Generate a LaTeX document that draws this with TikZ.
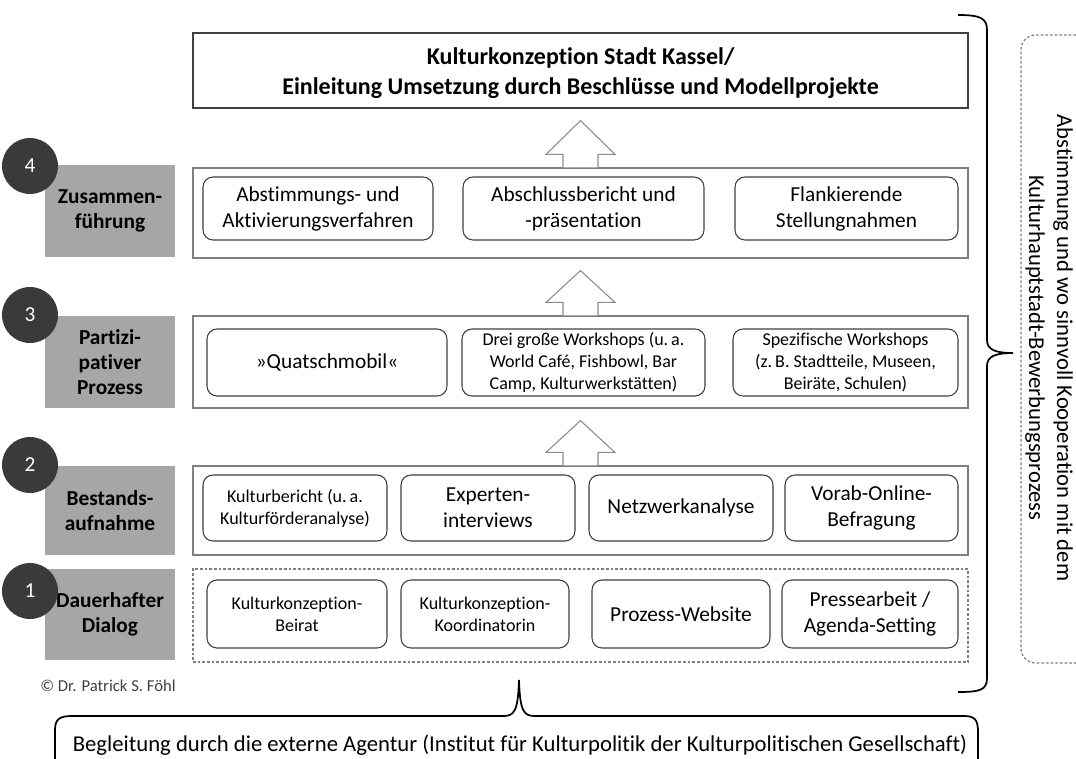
\documentclass[tikz,border=0pt]{standalone}
\usepackage{fontspec}
\setmainfont{Carlito}[Ligatures=NoCommon]
\usetikzlibrary{calc}
\definecolor{contc}{HTML}{7F7F7F}
\definecolor{boxc}{HTML}{404040}
\definecolor{labc}{HTML}{A6A6A6}
\definecolor{numc}{HTML}{3A3A3A}
\definecolor{arrc}{HTML}{8C8C8C}
\tikzset{
  span/.style n args={4}{at={({(#1+#3)/2},{(#2+#4)/2})}, minimum width={(#3-#1)*0.75pt}, minimum height={(#4-#2)*0.75pt}},
  cont/.style={draw=contc, line width=0.9pt, inner sep=0pt},
  dcont/.style={cont, dashed, dash pattern=on 2pt off 1.5pt},
  rbox/.style={draw=boxc, line width=0.8pt, rounded corners=7.5pt, inner sep=0pt, align=center, font=\fontsize{16}{19.5}\selectfont},
  sbox/.style={rbox, font=\fontsize{13.5}{16.5}\selectfont},
  lab/.style={fill=labc, inner sep=0pt, align=center, font=\bfseries\fontsize{16}{18.5}\selectfont},
  badge/.style={circle, fill=numc, text=white, inner sep=0pt, minimum size=42pt, font=\fontsize{16}{16}\selectfont},
  barrow/.style={draw=arrc, fill=white, line width=0.8pt, line join=miter},
  brace/.style={draw=black, line width=1.3pt},
}
\begin{document}
\begin{tikzpicture}[x=0.75pt,y=-0.75pt]
\useasboundingbox (0,0) rectangle (1076,758);
% top box
\node[draw=boxc, line width=0.9pt, inner sep=0pt, span={193}{33}{968}{108}] (topf) {};
\node[align=center, inner sep=0pt, font=\bfseries\fontsize{18}{22.5}\selectfont] (top) at ($(topf.center)+(0,3)$) {Kulturkonzeption Stadt Kassel/\\Einleitung Umsetzung durch Beschlüsse und Modellprojekte};
% containers
\node[cont, span={193}{168}{968}{258}] (r4) {};
\node[cont, span={193}{316}{968}{408}] (r3) {};
\node[cont, span={193}{466}{968}{555}] (r2) {};
\node[dcont, span={193}{569}{968}{662}] (r1) {};
% row 4
\node[rbox, span={203}{177}{433}{240}] (b41) {Abstimmungs- und\\Aktivierungsverfahren};
\node[rbox, span={463}{177}{704}{240}] (b42) {Abschlussbericht und\\-präsentation};
\node[rbox, span={735}{177}{958}{240}] (b43) {Flankierende\\Stellungnahmen};
% row 3
\node[rbox, span={207}{329}{447}{396}] (b31) {»Quatschmobil«};
\node[sbox, span={462}{329}{705}{396}] (b32) {Drei große Workshops (u.\,a.\\World Café, Fishbowl, Bar\\Camp, Kulturwerkstätten)};
\node[sbox, span={733}{329}{958}{396}] (b33) {Spezifische Workshops\\(z.\,B. Stadtteile, Museen,\\Beiräte, Schulen)};
% row 2
\node[sbox, span={203}{475}{387}{541}] (b21) {Kulturbericht (u.\,a.\\Kulturförderanalyse)};
\node[rbox, span={401}{475}{575}{541}] (b22) {Experten-\\interviews};
\node[rbox, span={589}{475}{773}{541}] (b23) {Netzwerkanalyse};
\node[rbox, span={785}{475}{958}{541}] (b24) {Vorab-Online-\\Befragung};
% row 1
\node[sbox, span={207}{580}{387}{648}] (b11) {Kulturkonzeption-\\Beirat};
\node[sbox, span={401}{580}{569}{648}] (b12) {Kulturkonzeption-\\Koordinatorin};
\node[rbox, span={592}{580}{770}{648}] (b13) {Prozess-Website};
\node[rbox, span={782}{580}{958}{648}] (b14) {Pressearbeit /\\Agenda-Setting};
% labels
\node[lab, span={45}{165}{175}{257}] (l4) {Zusammen-\\führung};
\node[lab, span={45}{316}{175}{408}] (l3) {Partizi-\\pativer\\Prozess};
\node[lab, span={45}{466}{175}{555}] (l2) {Bestands-\\aufnahme};
\node[lab, span={45}{569}{175}{660}] (l1) {Dauerhafter\\Dialog};
\node[badge] (n4) at (30,166) {4};
\node[badge] (n3) at (30,315) {3};
\node[badge] (n2) at (30,465) {2};
\node[badge] (n1) at (30,591) {1};
% block arrows
\foreach \s/\t in {r4/topf, r3/r4, r2/r3}{
  \draw[barrow] ($(\s.north)+(-17.5,0)$) -- ++(0,-13) -- ++(-17,0) -- ($(\t.south)+(0,12)$) -- ($(\s.north)+(34.5,-13)$) -- ++(-17,0) -- ++(0,13);
}
% copyright
\node[anchor=west, inner sep=0pt, text=black!75, font=\fontsize{12.5}{14}\selectfont] (copy) at (40,686) {© Dr. Patrick S. Föhl};
% right brace
\draw[brace] (958,15) .. controls (980,15) and (987,18) .. (987,30) -- (987,340) .. controls (987,350) and (996,353) .. (1013,353)
  .. controls (996,353) and (987,356) .. (987,366) -- (987,678) .. controls (987,690) and (980,692) .. (958,692);
% right dashed box
\draw[dcont, rounded corners=11pt] (1090,35) -- (1021,35) -- (1021,663) -- (1090,663);
\node[rotate=-90, align=center, inner sep=0pt, font=\fontsize{17}{21}\selectfont] (rtext) at (1049,348) {Abstimmung und wo sinnvoll Kooperation mit dem\\Kulturhauptstadt-Bewerbungsprozess};
% bottom brace
\draw[brace] (55,760) -- (55,730) .. controls (55,719) and (60,716) .. (72,716) -- (503,716) .. controls (514,716) and (518,712) .. (519,680)
  .. controls (520,712) and (524,716) .. (535,716) -- (964,716) .. controls (975,716) and (978,720) .. (978,732) -- (978,760);
\node[inner sep=0pt, font=\fontsize{17}{20}\selectfont] (btext) at (520,745) {Begleitung durch die externe Agentur (Institut für Kulturpolitik der Kulturpolitischen Gesellschaft)};
\end{tikzpicture}
\end{document}
